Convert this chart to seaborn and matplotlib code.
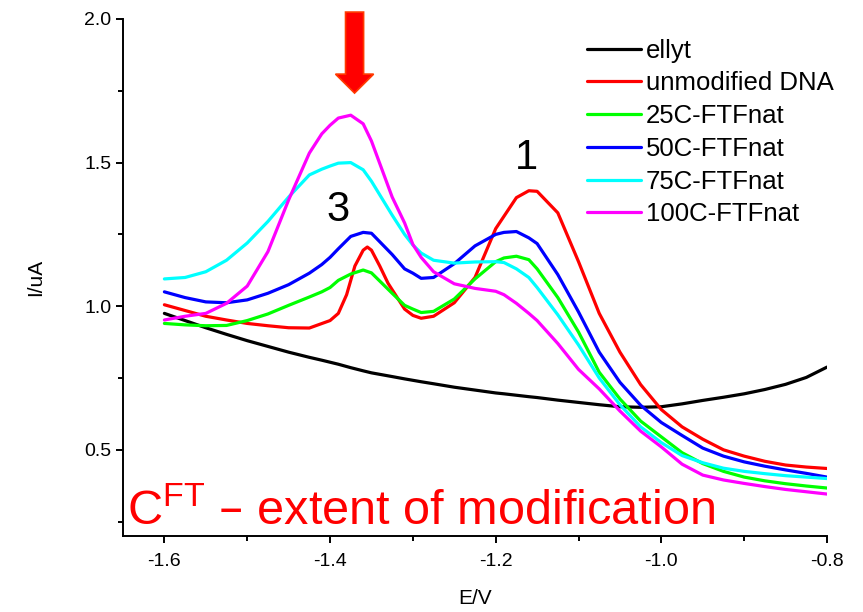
import pandas as pd
import matplotlib
matplotlib.use("Agg")
import matplotlib.pyplot as plt
from matplotlib.ticker import MultipleLocator
import seaborn as sns

# potential grid (V)
E = [-1.6, -1.575, -1.55, -1.525, -1.5, -1.475, -1.45, -1.425, -1.41, -1.4,
     -1.39, -1.375, -1.36, -1.35, -1.325, -1.31, -1.3, -1.29, -1.275, -1.25,
     -1.225, -1.2, -1.19, -1.175, -1.16, -1.15, -1.125, -1.1, -1.075, -1.05,
     -1.025, -1.0, -0.975, -0.95, -0.925, -0.9, -0.875, -0.85, -0.825, -0.8]

ellyt = [0.975, 0.95, 0.925, 0.902, 0.88, 0.86, 0.84, 0.822, 0.812, 0.805,
         0.798, 0.786, 0.775, 0.768, 0.755, 0.747, 0.742, 0.737, 0.73, 0.718,
         0.708, 0.698, 0.695, 0.69, 0.685, 0.682, 0.673, 0.665, 0.657, 0.65,
         0.648, 0.65, 0.66, 0.672, 0.683, 0.695, 0.71, 0.728, 0.752, 0.788]

c25 = [0.94, 0.935, 0.932, 0.933, 0.95, 0.973, 1.003, 1.032, 1.05, 1.065,
       1.09, 1.112, 1.126, 1.116, 1.045, 1.003, 0.99, 0.978, 0.982, 1.025,
       1.095, 1.155, 1.168, 1.174, 1.162, 1.13, 1.03, 0.91, 0.77, 0.677,
       0.6, 0.545, 0.49, 0.452, 0.425, 0.405, 0.392, 0.382, 0.374, 0.367]

c50 = [1.05, 1.03, 1.015, 1.012, 1.022, 1.045, 1.075, 1.115, 1.145, 1.17,
       1.2, 1.243, 1.257, 1.254, 1.18, 1.13, 1.115, 1.097, 1.1, 1.148,
       1.21, 1.25, 1.257, 1.26, 1.238, 1.218, 1.11, 0.98, 0.84, 0.735,
       0.655, 0.595, 0.55, 0.506, 0.478, 0.458, 0.443, 0.43, 0.418, 0.405]

c75 = [1.095, 1.1, 1.12, 1.16, 1.22, 1.295, 1.38, 1.457, 1.477, 1.488,
       1.498, 1.5, 1.475, 1.435, 1.317, 1.25, 1.213, 1.185, 1.16, 1.15,
       1.154, 1.155, 1.152, 1.13, 1.1, 1.065, 0.97, 0.865, 0.75, 0.657,
       0.58, 0.525, 0.48, 0.455, 0.436, 0.425, 0.417, 0.41, 0.405, 0.4]

c100 = [0.952, 0.965, 0.975, 1.01, 1.07, 1.19, 1.37, 1.533, 1.6, 1.63,
        1.655, 1.665, 1.635, 1.575, 1.38, 1.29, 1.215, 1.17, 1.12, 1.078,
        1.062, 1.052, 1.04, 1.01, 0.975, 0.95, 0.87, 0.78, 0.712, 0.635,
        0.565, 0.51, 0.45, 0.412, 0.395, 0.383, 0.372, 0.362, 0.354, 0.346]

# unmodified DNA has a sharp peak, read on a finer grid
E_dna = [-1.6, -1.575, -1.55, -1.525, -1.5, -1.475, -1.45, -1.425, -1.4, -1.39,
         -1.38, -1.37, -1.36, -1.355, -1.35, -1.34, -1.33, -1.32, -1.31, -1.3,
         -1.29, -1.275, -1.25, -1.225, -1.2, -1.175, -1.16, -1.15, -1.125, -1.1,
         -1.075, -1.05, -1.025, -1.0, -0.975, -0.95, -0.925, -0.9, -0.875, -0.85,
         -0.825, -0.8]
dna = [1.005, 0.985, 0.965, 0.952, 0.94, 0.932, 0.925, 0.924, 0.95, 0.975,
       1.04, 1.14, 1.195, 1.206, 1.195, 1.14, 1.08, 1.035, 0.99, 0.968,
       0.958, 0.965, 1.012, 1.10, 1.27, 1.378, 1.402, 1.40, 1.325, 1.155,
       0.975, 0.84, 0.727, 0.64, 0.58, 0.537, 0.5, 0.478, 0.46, 0.447,
       0.44, 0.435]

labels = ["ellyt", "unmodified DNA", "25C-FTFnat", "50C-FTFnat", "75C-FTFnat", "100C-FTFnat"]
colors = ["#000000", "#ff0000", "#00ff00", "#0000ff", "#00ffff", "#ff00ff"]

sns.set_style("ticks")
plt.rcParams["font.family"] = ["Liberation Sans", "DejaVu Sans"]
plt.rcParams["mathtext.default"] = "regular"
for k in ["text.color", "axes.labelcolor", "xtick.color", "ytick.color", "axes.edgecolor"]:
    plt.rcParams[k] = "black"

fig, ax = plt.subplots(figsize=(8.63, 6.12), dpi=100)
fig.subplots_adjust(left=0.1425, right=0.9583, top=0.969, bottom=0.1242)

series = [(E, ellyt), (E_dna, dna), (E, c25), (E, c50), (E, c75), (E, c100)]
for (x, y), lab, col in zip(series, labels, colors):
    sns.lineplot(x=x, y=y, ax=ax, color=col, linewidth=2.3, label=lab, legend=False)

ax.set_xlim(-1.65, -0.8)
ax.set_ylim(0.2, 2.0)
ax.xaxis.set_minor_locator(MultipleLocator(0.1))
ax.yaxis.set_major_locator(MultipleLocator(0.5))
ax.yaxis.set_minor_locator(MultipleLocator(0.25))
ax.set_xticks([-1.6, -1.4, -1.2, -1.0, -0.8])
ax.set_xticklabels(["-1.6", "-1.4", "-1.2", "-1.0", "-0.8"])
ax.tick_params(which="major", direction="out", length=5, width=1.4, labelsize=14)
ax.tick_params(which="minor", direction="out", length=3.5, width=1.4)
ax.tick_params(axis="x", which="major", pad=7)
sns.despine(ax=ax)
for s in ["left", "bottom"]:
    ax.spines[s].set_linewidth(1.4)

ax.set_xlabel("E/V", fontsize=15, labelpad=14)
ax.set_ylabel("I/uA", fontsize=15, labelpad=28)

ax.text(-1.391, 1.335, "3", fontsize=30, ha="center", va="center")
ax.text(-1.1625, 1.515, "1", fontsize=30, ha="center", va="center")
ax.text(-1.645, 0.238, "C$^{FT}$ \u2013 extent of modification", fontsize=35,
        color="#ff0000", ha="left", va="baseline")

ax.arrow(-1.3704, 2.024, 0, -0.282, width=0.0218, head_width=0.046, head_length=0.066,
         length_includes_head=True, facecolor="#ff0000", edgecolor="#ff3a00",
         linewidth=1.2, clip_on=False, zorder=5)

handles, labs = ax.get_legend_handles_labels()
ax.legend(handles, labs, loc="upper left", bbox_to_anchor=(0.680, 0.937),
          bbox_transform=fig.transFigure, frameon=False, fontsize=18.5,
          handlelength=2.1, handletextpad=0.2, labelspacing=0.34, borderpad=0,
          borderaxespad=0)

fig.savefig("out.png", dpi=100)
